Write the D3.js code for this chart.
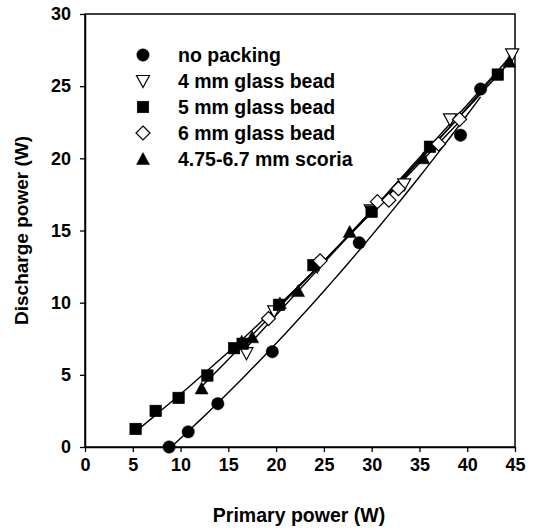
<!DOCTYPE html>
<html>
<head>
<meta charset="utf-8">
<script src="https://cdn.jsdelivr.net/npm/d3@7"></script>
<style>
  body { margin: 0; background: #fff; }
  svg text { font-family: "Liberation Sans", Arial, sans-serif; fill: #000; }
</style>
</head>
<body>
<svg></svg>
<script>
let width = 539, height = 532;

// data
const seriesNames = ["no packing", "4 mm glass bead", "5 mm glass bead", "6 mm glass bead", "4.75-6.7 mm scoria"];

const noPackingX = [8.8, 10.8, 13.9, 19.6, 28.7, 39.3, 41.4];
const noPackingY = [0, 1.05, 3.0, 6.6, 14.15, 21.6, 24.8];

const glass4X = [16.9, 19.8, 24.3, 29.9, 33.4, 38.2, 44.7];
const glass4Y = [6.5, 9.4, 12.5, 16.4, 18.2, 22.7, 27.2];

const glass5X = [5.3, 7.4, 9.8, 12.8, 15.6, 16.5, 20.3, 23.9, 30.0, 36.1, 43.2];
const glass5Y = [1.25, 2.5, 3.4, 4.95, 6.85, 7.15, 9.85, 12.6, 16.3, 20.8, 25.8];

const glass6X = [19.2, 24.6, 30.6, 31.8, 32.8, 37.0, 39.2];
const glass6Y = [8.9, 12.9, 17.0, 17.1, 17.9, 21.0, 22.7];

const scoriaX = [12.2, 16.4, 17.5, 20.4, 22.3, 27.7, 35.4, 44.4];
const scoriaY = [4.05, 7.3, 7.6, 9.95, 10.8, 14.9, 20.0, 26.7];

const xTicks = [0, 5, 10, 15, 20, 25, 30, 35, 40, 45];
const yTicks = [0, 5, 10, 15, 20, 25, 30];

const series = [
    { name: seriesNames[0], xs: noPackingX, ys: noPackingY, shape: "circle", fill: "#000" },
    { name: seriesNames[1], xs: glass4X, ys: glass4Y, shape: "down", fill: "#fff" },
    { name: seriesNames[2], xs: glass5X, ys: glass5Y, shape: "square", fill: "#000" },
    { name: seriesNames[3], xs: glass6X, ys: glass6Y, shape: "diamond", fill: "#fff" },
    { name: seriesNames[4], xs: scoriaX, ys: scoriaY, shape: "up", fill: "#000" }
];

let svg = d3.select("svg")
    .attr("width", width)
    .attr("height", height);

let x = d3.scaleLinear().domain([0, 45]).range([85, 515]);
let y = d3.scaleLinear().domain([0, 30]).range([447, 14]);

// frame
svg.append("rect")
    .attr("x", x(0)).attr("y", y(30))
    .attr("width", x(45) - x(0)).attr("height", y(0) - y(30))
    .attr("fill", "none").attr("stroke", "#000").attr("stroke-width", 1.5);

// axes
let xAxis = svg.append("g")
    .attr("transform", "translate(0," + y(0) + ")")
    .call(d3.axisBottom(x).tickValues(xTicks).tickSize(5).tickPadding(6).tickSizeOuter(0));
let yAxis = svg.append("g")
    .attr("transform", "translate(" + x(0) + ",0)")
    .call(d3.axisLeft(y).tickValues(yTicks).tickSize(5).tickPadding(9).tickSizeOuter(0));

[xAxis, yAxis].forEach(a => {
    a.select(".domain").attr("stroke-width", 1.5);
    a.selectAll(".tick line").attr("stroke-width", 1.3);
    a.selectAll("text")
        .attr("font-size", "18px")
        .attr("font-weight", "bold")
        .attr("font-family", "Liberation Sans, Arial, sans-serif");
});

svg.append("text")
    .attr("x", 299)
    .attr("y", 522)
    .attr("text-anchor", "middle")
    .attr("font-size", "19.5px")
    .attr("font-weight", "bold")
    .text("Primary power (W)");

svg.append("text")
    .attr("transform", "translate(28," + ((y(0) + y(30)) / 2) + ") rotate(-90)")
    .attr("text-anchor", "middle")
    .attr("font-size", "19px")
    .attr("font-weight", "bold")
    .text("Discharge power (W)");

// quadratic least-squares trend line for each series
function quadFit(xs, ys) {
    let n = xs.length, s = [0, 0, 0, 0, 0], t = [0, 0, 0];
    for (let i = 0; i < n; i++) {
        let p = 1;
        for (let k = 0; k < 5; k++) { s[k] += p; if (k < 3) t[k] += p * ys[i]; p *= xs[i]; }
    }
    let m = [[s[0], s[1], s[2], t[0]], [s[1], s[2], s[3], t[1]], [s[2], s[3], s[4], t[2]]];
    for (let c = 0; c < 3; c++) {
        for (let r = c + 1; r < 3; r++) {
            let f = m[r][c] / m[c][c];
            for (let k = c; k < 4; k++) m[r][k] -= f * m[c][k];
        }
    }
    let b = [0, 0, 0];
    for (let r = 2; r >= 0; r--) {
        let v = m[r][3];
        for (let k = r + 1; k < 3; k++) v -= m[r][k] * b[k];
        b[r] = v / m[r][r];
    }
    return v => b[0] + b[1] * v + b[2] * v * v;
}

let line = d3.line().x(d => x(d[0])).y(d => y(d[1]));

series.forEach(s => {
    let f = quadFit(s.xs, s.ys);
    let lo = d3.min(s.xs), hi = d3.max(s.xs);
    let pts = d3.range(0, 41).map(i => { let v = lo + (hi - lo) * i / 40; return [v, f(v)]; });
    svg.append("path")
        .datum(pts)
        .attr("d", line)
        .attr("fill", "none")
        .attr("stroke", "#000")
        .attr("stroke-width", 1.4);
});

function marker(g, shape, fill) {
    if (shape === "circle") {
        g.append("circle").attr("r", 6.2);
    } else if (shape === "square") {
        g.append("rect").attr("x", -5.8).attr("y", -5.8).attr("width", 11.6).attr("height", 11.6);
    } else if (shape === "diamond") {
        g.append("path").attr("d", "M0,-7L7,0L0,7L-7,0Z");
    } else if (shape === "up") {
        g.append("path").attr("d", "M0,-6.5L6.5,5.5L-6.5,5.5Z");
    } else {
        g.append("path").attr("d", "M0,6.5L6.5,-5.5L-6.5,-5.5Z");
    }
    g.selectAll("*")
        .attr("fill", fill)
        .attr("stroke", "#000")
        .attr("stroke-width", fill === "#fff" ? 1.2 : 0.5);
}

series.forEach(s => {
    svg.append("g")
        .selectAll("g")
        .data(s.xs.map((v, i) => [v, s.ys[i]]))
        .enter()
        .append("g")
        .attr("transform", d => "translate(" + x(d[0]) + "," + y(d[1]) + ")")
        .each(function () { marker(d3.select(this), s.shape, s.fill); });
});

// legend
let legend = svg.append("g");
series.forEach((s, i) => {
    let row = legend.append("g").attr("transform", "translate(143," + (55 + i * 26) + ")");
    marker(row.append("g"), s.shape, s.fill);
    row.append("text")
        .attr("x", 35)
        .attr("y", 6.5)
        .attr("font-size", "19.5px")
        .attr("font-weight", "bold")
        .text(s.name);
});
</script>
</body>
</html>
